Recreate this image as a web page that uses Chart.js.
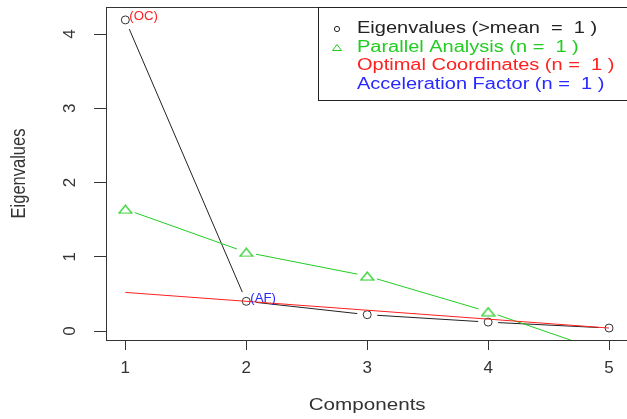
<!DOCTYPE html>
<html>
<head>
<meta charset="utf-8">
<script src="https://cdn.jsdelivr.net/npm/chart.js@4/dist/chart.umd.min.js"></script>
<style>
html, body { margin: 0; padding: 0; background: #fff; overflow: hidden; }
#wrap { width: 640px; height: 419px; }
</style>
</head>
<body>
<div id="wrap"><canvas id="screeChart" width="640" height="419"></canvas></div>
<script>

var components = [1, 2, 3, 4, 5];
var eigenvalues = [4.19, 0.40, 0.22, 0.12, 0.04];
var parallelAnalysis = [1.64, 1.06, 0.74, 0.26, -0.30];
var ocLineX = [1, 5];
var ocLineY = [0.52, 0.04];
var xTicks = [1, 2, 3, 4, 5];
var yTicks = [0, 1, 2, 3, 4];
var legendLabels = [
    "Eigenvalues (>mean  =  1 )",
    "Parallel Analysis (n =  1 )",
    "Optimal Coordinates (n =  1 )",
    "Acceleration Factor (n =  1 )"
];
var ocIndex = 0;   // (OC) sits next to component 1
var afIndex = 1;   // (AF) sits next to component 2

var BLACK = "#222222";
var GREEN = "#22cc22";
var RED = "#ff2020";
var BLUE = "#2828ff";
var FONT = '"Liberation Sans", Arial, sans-serif';
var TEXT_SX = 1.25;   // reference text is drawn a bit wide
var GAP = 10;         // R type="b" gap around the points

function toPoints(xs, ys) {
    return xs.map(function(x, i) { return { x: x, y: ys[i] }; });
}

function makeTriangle(color, w, h) {
    var c = document.createElement("canvas");
    c.width = w + 2;
    c.height = h + 2;
    var ctx = c.getContext("2d");
    ctx.strokeStyle = color;
    ctx.lineWidth = 1.2;
    ctx.beginPath();
    ctx.moveTo(1, h + 1);
    ctx.lineTo(w + 1, h + 1);
    ctx.lineTo(w / 2 + 1, 1);
    ctx.closePath();
    ctx.stroke();
    return c;
}

function wideText(ctx, text, x, y, sx) {
    ctx.save();
    ctx.translate(x, y);
    ctx.scale(sx, 1);
    ctx.fillText(text, 0, 0);
    ctx.restore();
}

// lines between points with a gap, like plot(type = "b")
var gapLines = {
    id: "gapLines",
    beforeDatasetsDraw: function(chart) {
        var ctx = chart.ctx;
        var area = chart.chartArea;
        ctx.save();
        ctx.beginPath();
        ctx.rect(area.left, area.top, area.right - area.left, area.bottom - area.top);
        ctx.clip();
        chart.data.datasets.forEach(function(ds, i) {
            if (!ds.gapLine) return;
            var pts = chart.getDatasetMeta(i).data;
            ctx.strokeStyle = ds.borderColor;
            ctx.lineWidth = 1;
            for (var k = 0; k < pts.length - 1; k++) {
                var dx = pts[k + 1].x - pts[k].x;
                var dy = pts[k + 1].y - pts[k].y;
                var len = Math.sqrt(dx * dx + dy * dy);
                if (len <= 2 * GAP) continue;
                var ux = dx / len, uy = dy / len;
                ctx.beginPath();
                ctx.moveTo(pts[k].x + ux * GAP, pts[k].y + uy * GAP);
                ctx.lineTo(pts[k + 1].x - ux * GAP, pts[k + 1].y - uy * GAP);
                ctx.stroke();
            }
        });
        ctx.restore();
    }
};

var decorations = {
    id: "decorations",
    afterDraw: function(chart) {
        var ctx = chart.ctx;
        var area = chart.chartArea;
        ctx.save();

        // plot box
        ctx.strokeStyle = "#333";
        ctx.lineWidth = 1;
        var l = Math.round(area.left) + 0.5, t = Math.round(area.top) + 0.5;
        var r = Math.round(area.right) + 0.5, b = Math.round(area.bottom) + 0.5;
        ctx.strokeRect(l, t, r - l, b - t);

        // axis titles
        ctx.fillStyle = "#333";
        ctx.font = "16.5px " + FONT;
        ctx.textAlign = "center";
        ctx.textBaseline = "middle";
        wideText(ctx, "Components", (area.left + area.right) / 2, 405, TEXT_SX);
        ctx.save();
        ctx.translate(19, (area.top + area.bottom) / 2);
        ctx.rotate(-Math.PI / 2);
        ctx.scale(1, TEXT_SX);
        ctx.fillText("Eigenvalues", 0, 0);
        ctx.restore();

        // (OC) and (AF) tags
        var eig = chart.getDatasetMeta(1).data;
        ctx.font = "12px " + FONT;
        ctx.textAlign = "left";
        ctx.fillStyle = RED;
        wideText(ctx, "(OC)", eig[ocIndex].x + 4, eig[ocIndex].y - 3, 1.1);
        ctx.fillStyle = BLUE;
        wideText(ctx, "(AF)", eig[afIndex].x + 4, eig[afIndex].y - 3, 1.1);

        // legend
        ctx.strokeStyle = "#222";
        ctx.strokeRect(318.5, t, 400, 93);
        var colors = [BLACK, GREEN, RED, BLUE];
        var rows = [29, 47.5, 66, 84.5];
        ctx.font = "16px " + FONT;
        legendLabels.forEach(function(txt, i) {
            ctx.fillStyle = colors[i];
            wideText(ctx, txt, 357, rows[i], TEXT_SX);
        });
        ctx.strokeStyle = BLACK;
        ctx.beginPath();
        ctx.arc(337, rows[0], 2.6, 0, Math.PI * 2);
        ctx.stroke();
        ctx.strokeStyle = GREEN;
        ctx.beginPath();
        ctx.moveTo(332.5, rows[1] + 3);
        ctx.lineTo(341.5, rows[1] + 3);
        ctx.lineTo(337, rows[1] - 3);
        ctx.closePath();
        ctx.stroke();

        ctx.restore();
    }
};

var canvasElement = document.getElementById("screeChart");

var myChart = new Chart(canvasElement, {
    type: "line",
    data: {
        datasets: [{
            label: "Optimal Coordinates",
            data: toPoints(ocLineX, ocLineY),
            borderColor: RED,
            borderWidth: 1,
            pointRadius: 0,
            fill: false,
            order: 1
        }, {
            label: "Eigenvalues",
            data: toPoints(components, eigenvalues),
            showLine: false,
            gapLine: true,
            borderColor: BLACK,
            pointStyle: "circle",
            pointRadius: 4,
            pointBorderWidth: 1,
            pointBorderColor: "#333",
            pointBackgroundColor: "rgba(0,0,0,0)",
            order: 2
        }, {
            label: "Parallel Analysis",
            data: toPoints(components, parallelAnalysis),
            showLine: false,
            gapLine: true,
            borderColor: GREEN,
            pointStyle: makeTriangle(GREEN, 13, 8),
            order: 3
        }]
    },
    options: {
        responsive: false,
        animation: false,
        events: [],
        layout: { padding: { top: 7, right: 11.6, left: 0, bottom: 0 } },
        plugins: {
            legend: { display: false },
            tooltip: { enabled: false }
        },
        scales: {
            x: {
                type: "linear",
                min: 0.84,
                max: 5.16,
                afterBuildTicks: function(scale) {
                    scale.ticks = xTicks.map(function(v) { return { value: v }; });
                },
                afterFit: function(scale) {
                    scale.height = 79;
                    scale.paddingLeft = 0;
                    scale.paddingRight = 0;
                },
                grid: { drawOnChartArea: false, drawTicks: true, tickLength: 10, color: "#333" },
                border: { display: false },
                ticks: {
                    font: { family: FONT, size: 17 },
                    color: "#333",
                    padding: 8,
                    maxRotation: 0,
                    autoSkip: false
                }
            },
            y: {
                type: "linear",
                min: -0.121,
                max: 4.364,
                afterBuildTicks: function(scale) {
                    scale.ticks = yTicks.map(function(v) { return { value: v }; });
                },
                afterFit: function(scale) {
                    scale.width = 106;
                    scale.paddingTop = 0;
                    scale.paddingBottom = 0;
                },
                grid: { drawOnChartArea: false, drawTicks: true, tickLength: 12, color: "#333" },
                border: { display: false },
                ticks: {
                    font: { family: FONT, size: 17 },
                    color: "#333",
                    padding: 19,
                    minRotation: 90,
                    maxRotation: 90,
                    crossAlign: "center",
                    autoSkip: false
                }
            }
        }
    },
    plugins: [gapLines, decorations]
});

</script>
</body>
</html>
